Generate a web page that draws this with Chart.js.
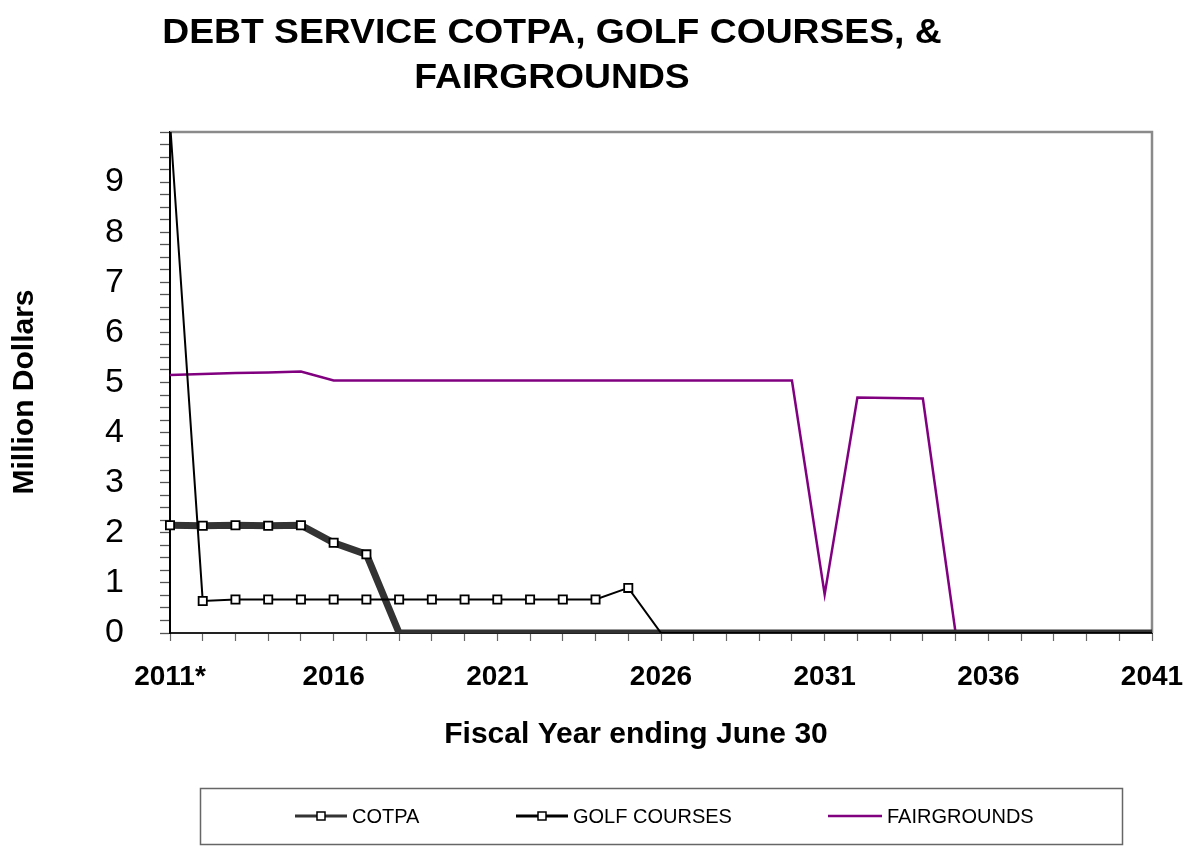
<!DOCTYPE html>
<html>
<head>
<meta charset="utf-8">
<title>Debt Service COTPA, Golf Courses, &amp; Fairgrounds</title>
<style>
  html, body { margin: 0; padding: 0; background: #fff; }
  #wrap { width: 1193px; height: 846px; }
</style>
</head>
<body>
<div id="wrap"><canvas id="debtChart" width="1193" height="846"></canvas></div>
<script src="https://cdn.jsdelivr.net/npm/chart.js"></script>
<script>
// fiscal years ending June 30
const years = [2011, 2012, 2013, 2014, 2015, 2016, 2017, 2018, 2019, 2020,
               2021, 2022, 2023, 2024, 2025, 2026, 2027, 2028, 2029, 2030,
               2031, 2032, 2033, 2034, 2035, 2036, 2037, 2038, 2039, 2040, 2041];

// debt service, million dollars
const cotpa = [2.15, 2.14, 2.15, 2.14, 2.15, 1.80, 1.57, 0, 0, 0,
               0, 0, 0, 0, 0, 0, 0, 0, 0, 0,
               0, 0, 0, 0, 0, 0, 0, 0, 0, 0, 0];
const golfCourses = [10.2, 0.64, 0.67, 0.67, 0.67, 0.67, 0.67, 0.67, 0.67, 0.67,
                     0.67, 0.67, 0.67, 0.67, 0.90, 0, 0, 0, 0, 0,
                     0, 0, 0, 0, 0, 0, 0, 0, 0, 0, 0];
const fairgrounds = [5.15, 5.17, 5.19, 5.20, 5.22, 5.04, 5.04, 5.04, 5.04, 5.04,
                     5.04, 5.04, 5.04, 5.04, 5.04, 5.04, 5.04, 5.04, 5.04, 5.04,
                     0.77, 4.70, 4.69, 4.68, 0, 0, 0, 0, 0, 0, 0];

const xTickLabels = ['2011*', '2016', '2021', '2026', '2031', '2036', '2041'];
const yTickLabels = [0, 1, 2, 3, 4, 5, 6, 7, 8, 9];

const FONT = "'Liberation Sans', Arial, Helvetica, sans-serif";
Chart.defaults.font.family = FONT;

// markers only where the value sits inside the plot and above zero
const markerRadius = ctx => (ctx.raw > 0 && ctx.raw <= 10 ? 5.8 : 0);

// gray frame on top/right of the plot area
const plotFrame = {
  id: 'plotFrame',
  beforeDatasetsDraw(chart) {
    const { ctx, chartArea: a } = chart;
    ctx.save();
    ctx.strokeStyle = '#8a8a8a';
    ctx.lineWidth = 2.5;
    ctx.beginPath();
    ctx.moveTo(a.left, a.top);
    ctx.lineTo(a.right, a.top);
    ctx.lineTo(a.right, a.bottom);
    ctx.stroke();
    ctx.restore();
  }
};

// text drawn centred at (x, y), optionally widened
function wideText(ctx, text, x, y, sx) {
  ctx.save();
  ctx.translate(x, y);
  ctx.scale(sx, 1);
  ctx.fillText(text, 0, 0);
  ctx.restore();
}

// title, axis titles and the boxed legend
const textAndLegend = {
  id: 'textAndLegend',
  afterDraw(chart) {
    const ctx = chart.ctx;
    ctx.save();
    ctx.fillStyle = '#000';
    ctx.textAlign = 'center';
    ctx.textBaseline = 'alphabetic';
    ctx.font = 'bold 35px ' + FONT;
    wideText(ctx, 'DEBT SERVICE COTPA, GOLF COURSES, &', 552, 43, 1.065);
    wideText(ctx, 'FAIRGROUNDS', 552, 88, 1.065);

    ctx.font = 'bold 30px ' + FONT;
    ctx.fillText('Fiscal Year ending June 30', 636, 743);

    ctx.save();
    ctx.translate(33, 392);
    ctx.rotate(-Math.PI / 2);
    ctx.font = 'bold 30px ' + FONT;
    ctx.fillText('Million Dollars', 0, 0);
    ctx.restore();

    // legend box
    ctx.strokeStyle = '#666';
    ctx.lineWidth = 1.5;
    ctx.strokeRect(200.5, 788.5, 922, 56);

    const items = [
      { label: 'COTPA', color: '#333', width: 3, x0: 295, x1: 347, marker: true },
      { label: 'GOLF COURSES', color: '#000', width: 3, x0: 516, x1: 568, marker: true },
      { label: 'FAIRGROUNDS', color: '#800080', width: 2.5, x0: 828, x1: 882, marker: false }
    ];
    const ly = 816;
    ctx.font = '20px ' + FONT;
    ctx.textAlign = 'left';
    ctx.textBaseline = 'middle';
    items.forEach(it => {
      ctx.strokeStyle = it.color;
      ctx.lineWidth = it.width;
      ctx.beginPath();
      ctx.moveTo(it.x0, ly);
      ctx.lineTo(it.x1, ly);
      ctx.stroke();
      if (it.marker) {
        const cx = (it.x0 + it.x1) / 2;
        ctx.fillStyle = '#fff';
        ctx.fillRect(cx - 4, ly - 4, 8, 8);
        ctx.strokeStyle = '#000';
        ctx.lineWidth = 1.5;
        ctx.strokeRect(cx - 4, ly - 4, 8, 8);
      }
      ctx.fillStyle = '#000';
      ctx.fillText(it.label, it.x1 + 5, ly + 1);
    });
    ctx.restore();
  }
};

const lineClip = { left: 10, top: 0, right: 10, bottom: 0 };

new Chart(document.getElementById('debtChart'), {
  type: 'line',
  data: {
    labels: years,
    datasets: [
      {
        label: 'COTPA',
        data: cotpa,
        borderColor: '#333333',
        borderWidth: 7,
        pointStyle: 'rect',
        pointRadius: markerRadius,
        pointBackgroundColor: '#fff',
        pointBorderColor: '#000',
        pointBorderWidth: 1.8,
        tension: 0,
        clip: lineClip,
        order: 2
      },
      {
        label: 'GOLF COURSES',
        data: golfCourses,
        borderColor: '#000000',
        borderWidth: 2,
        pointStyle: 'rect',
        pointRadius: markerRadius,
        pointBackgroundColor: '#fff',
        pointBorderColor: '#000',
        pointBorderWidth: 1.8,
        tension: 0,
        clip: lineClip,
        order: 1
      },
      {
        label: 'FAIRGROUNDS',
        data: fairgrounds,
        borderColor: '#800080',
        borderWidth: 2.5,
        pointRadius: 0,
        tension: 0,
        clip: lineClip,
        order: 3
      }
    ]
  },
  options: {
    responsive: false,
    animation: false,
    events: [],
    layout: { padding: { left: 0, top: 132, right: 41, bottom: 0 } },
    plugins: {
      legend: { display: false },
      title: { display: false },
      tooltip: { enabled: false }
    },
    scales: {
      x: {
        offset: false,
        afterFit(scale) {
          scale.height = 213;
          scale.paddingLeft = 0;
          scale.paddingRight = 0;
        },
        border: { color: '#222', width: 2 },
        grid: { drawOnChartArea: false, tickLength: 8, tickColor: '#666', tickWidth: 1.2 },
        ticks: {
          autoSkip: false,
          maxRotation: 0,
          padding: 19,
          color: '#000',
          font: { size: 28, weight: 'bold' },
          callback: (v, i) => (i % 5 === 0 ? xTickLabels[i / 5] : '')
        }
      },
      y: {
        min: 0,
        max: 10,
        afterFit(scale) { scale.width = 170; },
        border: { color: '#000', width: 2 },
        grid: { drawOnChartArea: false, tickLength: 10, tickColor: '#555', tickWidth: 1.3 },
        ticks: {
          stepSize: 0.25,
          autoSkip: false,
          padding: 36,
          color: '#000',
          font: { size: 34 },
          callback: v => (yTickLabels.includes(v) ? String(v) : '')
        }
      }
    }
  },
  plugins: [plotFrame, textAndLegend]
});
</script>
</body>
</html>
